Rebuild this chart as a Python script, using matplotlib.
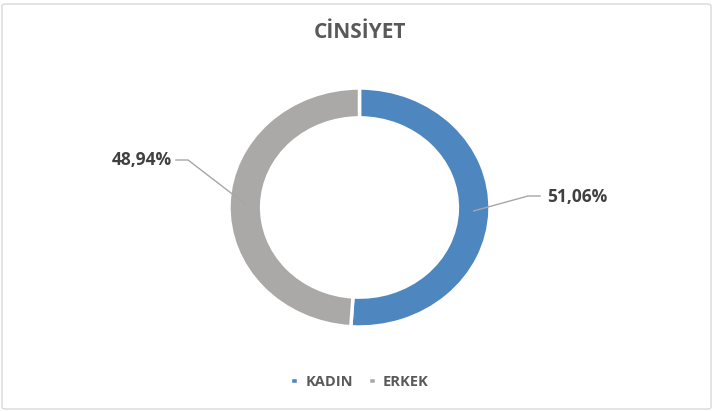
import numpy as np
import matplotlib
matplotlib.use("Agg")
import matplotlib.pyplot as plt
from matplotlib.patches import FancyBboxPatch

# data
categories = ["KADIN", "ERKEK"]
shares = [51.06, 48.94]
colors = ["#4E86C0", "#ABA8A8"]
title = "CİNSİYET"

plt.rcParams["font.family"] = ["Open Sans", "DejaVu Sans"]

W, H = 714, 411
fig = plt.figure(figsize=(W / 100, H / 100), dpi=100)
fig.patch.set_facecolor("white")

# light chart border
fig.patches.append(FancyBboxPatch((2 / W, 2 / H), 709 / W, 405 / H,
                                  boxstyle="round,pad=0,rounding_size=0.005",
                                  transform=fig.transFigure, fill=False,
                                  edgecolor="#D9D9D9", linewidth=1.0))

# axes spanning the (slightly elliptical) donut
cx, cy, rx, ry = 359.5, 207.5, 130.5, 119.5
ax = fig.add_axes([(cx - rx) / W, 1 - (cy + ry) / H, 2 * rx / W, 2 * ry / H])
wedges, _ = ax.pie(shares, colors=colors, startangle=90, counterclock=False,
                   radius=1.0, wedgeprops=dict(width=0.25, edgecolor="white", linewidth=2.5))
ax.set_aspect("auto")
ax.set_xlim(-1, 1)
ax.set_ylim(-1, 1)
ax.axis("off")

fig.text(cx / W, 1 - 32 / H, title, ha="center", va="center",
         fontsize=15, fontweight="bold", color="#595959")

# data labels with leader lines
label_pos = [(547, 197), (172, 160)]
elbow = [(528, 196), (188, 160)]
for w, v, (lx, ly), (ex, ey) in zip(wedges, shares, label_pos, elbow):
    mid = np.deg2rad((w.theta1 + w.theta2) / 2)
    px, py = 0.875 * np.cos(mid), 0.875 * np.sin(mid)
    p_fig = fig.transFigure.inverted().transform(ax.transData.transform((px, py)))
    e_fig = (ex / W, 1 - ey / H)
    txt = f"{v:.2f}".replace(".", ",") + "%"
    left = px > 0
    ax.plot([p_fig[0], e_fig[0], e_fig[0] + (0.017 if left else -0.017)],
            [p_fig[1], e_fig[1], e_fig[1]],
            transform=fig.transFigure, color="#A6A6A6", linewidth=1.0, clip_on=False)
    fig.text(lx / W, 1 - ly / H, txt, ha="left" if left else "right", va="center",
             fontsize=12.5, fontweight="bold", color="#404040")

leg = fig.legend(wedges, categories, loc="center", bbox_to_anchor=(cx / W, 1 - 382 / H),
                 ncol=2, frameon=False, handlelength=0.55, handleheight=0.4,
                 handletextpad=0.5, columnspacing=1.0, fontsize=10.5)
for t in leg.get_texts():
    t.set_color("#595959")
    t.set_fontweight("bold")

fig.savefig("out.png", dpi=100)
